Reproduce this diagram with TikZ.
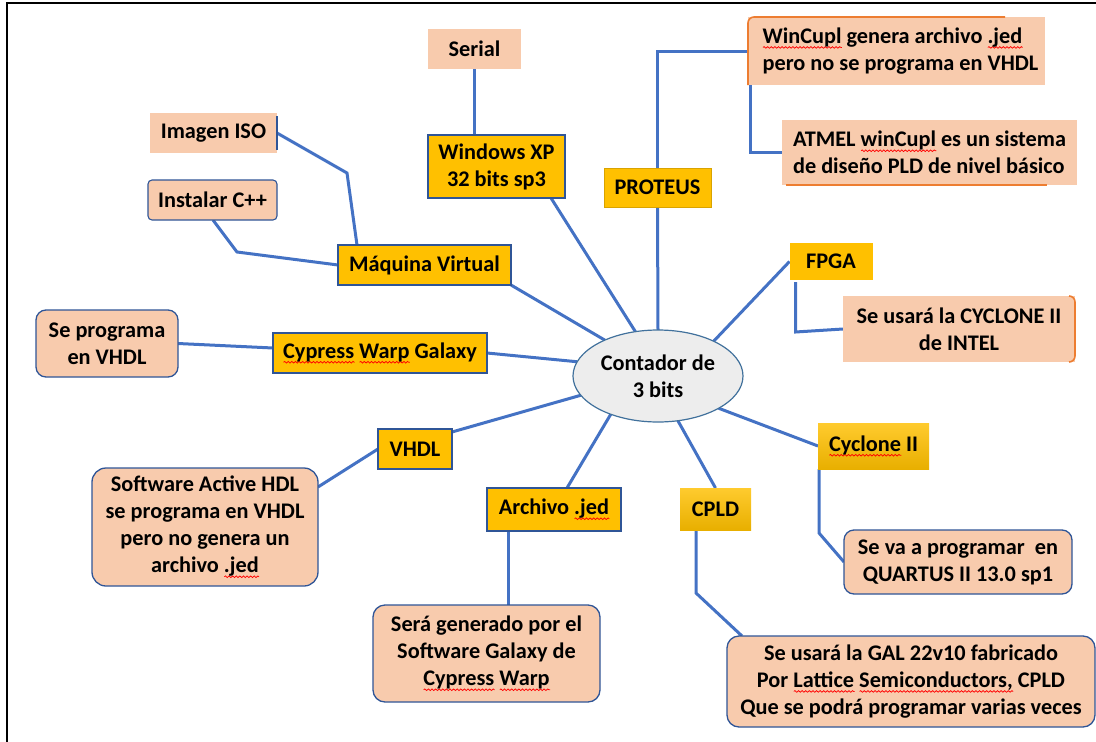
\documentclass[tikz,border=0pt]{standalone}
\usepackage{fontspec}
\setmainfont{Carlito}
\usetikzlibrary{shapes.geometric,calc,decorations.pathmorphing}
\definecolor{gold}{HTML}{FFC000}
\definecolor{goldtop}{HTML}{FFCB2E}
\definecolor{goldbot}{HTML}{E8AF00}
\definecolor{peach}{HTML}{F8CBAD}
\definecolor{lineblue}{HTML}{4472C4}
\definecolor{boxblue}{HTML}{2F5597}
\definecolor{orangeb}{HTML}{ED7D31}
\definecolor{ellfill}{HTML}{EDEDED}
\definecolor{ellline}{HTML}{41719C}
\newlength\sqw
\newcommand\sq[1]{\settowidth\sqw{#1}\rlap{\tikz[baseline=0pt]\draw[red, fill=none, sharp corners, line width=0.75pt, decorate, decoration={snake,amplitude=0.8pt,segment length=3.6pt}] (0pt,-4pt) -- (\sqw,-4pt);}#1}
\pgfdeclarelayer{background}
\pgfsetlayers{background,main}
\begin{document}
\begin{tikzpicture}[x=1pt,y=-1pt,
  txt/.style={font=\bfseries\fontsize{22.3}{27}\selectfont, align=center, inner sep=0pt, outer sep=0pt},
  goldbox/.style={txt, rectangle, fill=gold, draw=boxblue, line width=1.3pt},
  goldplain/.style={txt, rectangle, fill=gold},
  goldgrad/.style={txt, rectangle, top color=goldtop, bottom color=goldbot},
  peachbox/.style={txt, rectangle, fill=peach},
  peachround/.style={txt, rectangle, fill=peach, draw=boxblue, line width=1.3pt},
  conn/.style={draw=lineblue, line width=3pt},
  edgeline/.style={line width=1.6pt}]
\useasboundingbox (0,0) rectangle (1096,742);
\draw[black, line width=2.5pt] (7,742) -- (7,3) -- (1096,3);

% nodes
\node[peachbox, minimum width=93pt, minimum height=40pt] (serial) at (474.5,49) {Serial};
\node[peachbox, minimum width=127pt, minimum height=40pt] (iso) at (213.5,133) {Imagen ISO};
\node[peachbox, draw=boxblue, line width=1.1pt, rounded corners=4pt, minimum width=129pt, minimum height=40pt] (inst) at (212.5,200) {Instalar C++};
\node[goldbox, minimum width=173pt, minimum height=40pt] (maq) at (424.5,265) {Máquina Virtual};
\node[goldbox, minimum width=137pt, minimum height=63pt] (winxp) at (496.5,166.5) {Windows XP\\32 bits sp3};
\node[goldplain, draw=gold!85!black, line width=0.8pt, minimum width=107pt, minimum height=39pt] (prot) at (657.5,187.5) {PROTEUS};
\node[peachbox, align=left, minimum width=297pt, minimum height=68pt] (wincupl) at (896.5,51)
  {\hspace*{8pt}\sq{WinCupl} genera archivo \sq{.jed}\\\hspace*{8pt}pero no se programa en VHDL};
\node[peachbox, align=left, minimum width=295pt, minimum height=65pt] (atmel) at (929.5,152.5)
  {ATMEL \sq{winCupl} es un sistema\\de diseño PLD de nivel básico};
\node[goldplain, minimum width=83pt, minimum height=37pt] (fpga) at (831,261.5) {FPGA};
\node[peachbox, minimum width=232pt, minimum height=66pt] (intel) at (959,329) {Se usará la CYCLONE II\\de INTEL};
\node[peachround, rounded corners=10pt, minimum width=142pt, minimum height=67pt] (seprog) at (107,343.5) {Se programa\\en VHDL};
\node[goldbox, minimum width=214pt, minimum height=40pt] (cyp) at (380,353) {\sq{Cypress} \sq{Warp} Galaxy};
\node[txt, ellipse, fill=ellfill, draw=ellline, line width=1.2pt, minimum width=170pt, minimum height=92pt] (ell) at (658,376) {Contador de\\3 bits};
\node[goldbox, minimum width=74pt, minimum height=40pt] (vhdl) at (415,449) {VHDL};
\node[peachround, rounded corners=14pt, minimum width=226pt, minimum height=118pt] (sw) at (205,527)
  {Software Active HDL\\se programa en VHDL\\pero no genera un\\archivo \sq{.jed}};
\node[goldbox, minimum width=134pt, minimum height=43pt] (arch) at (554,509.5) {Archivo \sq{.jed}};
\node[peachround, rounded corners=12pt, minimum width=227pt, minimum height=97pt] (sera) at (486.5,653.5)
  {Será generado por el\\Software Galaxy de\\\sq{Cypress} \sq{Warp}};
\node[goldgrad, minimum width=71pt, minimum height=42pt] (cpld) at (715.5,509) {CPLD};
\node[goldgrad, minimum width=111pt, minimum height=46pt] (cyc) at (873.5,446) {\sq{Cyclone} II};
\node[peachround, rounded corners=10pt, minimum width=228pt, minimum height=64pt] (seva) at (958,562)
  {Se va a programar\ \ en\\QUARTUS II 13.0 sp1};
\node[peachround, rounded corners=12pt, minimum width=368pt, minimum height=91pt] (gal) at (911,681.5)
  {Se usará la GAL 22v10 fabricado\\Por \sq{Lattice} \sq{Semiconductors,} CPLD\\Que se podrá programar varias veces};

% partial box edges
\draw[boxblue, edgeline] ($(iso.north east)+(0,3)$) -- ($(iso.south east)+(0,-3)$);
\draw[orangeb, edgeline, rounded corners=6pt] (wincupl.south west) -- (wincupl.north west) -- ($(wincupl.north east)+(-40,0)$);
\draw[orangeb, edgeline] ($(atmel.south west)+(4,0)$) -- ($(atmel.south east)+(-30,0)$);
\draw[orangeb, edgeline, rounded corners=6pt] ($(intel.north east)+(-6,0)$) -- (intel.north east) -- (intel.south east) -- ($(intel.south east)+(-6,0)$);

% connectors
\begin{pgfonlayer}{background}
\draw[conn] (serial.south) -- (serial.south |- winxp.north);
\draw[conn] (iso.east) -- (347,173) -- ($(maq.north west)+(19,0)$);
\draw[conn] ($(inst.south west)+(65,0)$) -- (237,252) -- (maq.west);
\draw[conn] (maq.south east) -- (ell.146);
\draw[conn] (seprog.east) -- ($(cyp.west)+(0,-5)$);
\draw[conn] (cyp.east) -- (ell.170);
\draw[conn] ($(winxp.south east)+(-14,0)$) -- (ell.117);
\draw[conn] (prot.south) -- (ell.north);
\draw[conn] (prot.north) |- (wincupl.west);
\draw[conn] ($(wincupl.south west)+(2,0)$) |- (atmel.west);
\draw[conn] (fpga.west) -- (ell.32);
\draw[conn] ($(fpga.south west)+(6,2)$) -- ($(fpga.south west)+(6,52)$) -- (intel.west);
\draw[conn] ($(vhdl.north east)+(0,3)$) -- (ell.194);
\draw[conn] (vhdl.west) -- ($(sw.north east)+(0,19)$);
\draw[conn] ($(arch.north)+(13,0)$) -- (ell.219);
\draw[conn] ($(arch.south west)+(21,0)$) coordinate (a1) -- (a1 |- sera.north);
\draw[conn] (cpld.north) -- (ell.294);
\draw[conn] ($(cpld.south west)+(16,0)$) -- ++(0,63) -- ($(gal.north west)+(15,0)$);
\draw[conn] (cyc.west) -- (ell.332);
\draw[conn] ($(cyc.south west)+(1,0)$) -- ++(0,64) -- (seva.west);
\end{pgfonlayer}
\end{tikzpicture}
\end{document}
